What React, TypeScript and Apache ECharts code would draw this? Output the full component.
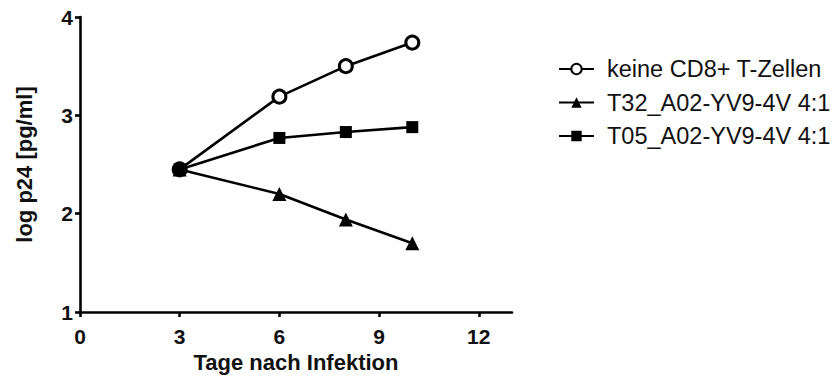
import React, { useEffect, useRef } from "react";
import * as echarts from "echarts";

// Days after infection
const days = [3, 6, 8, 10];

// log p24 [pg/ml] per condition
const keineCD8 = [2.45, 3.19, 3.5, 3.74];
const t32 = [2.45, 2.2, 1.94, 1.7];
const t05 = [2.45, 2.77, 2.83, 2.88];

const seriesNames = [
  "keine CD8+ T-Zellen",
  "T32_A02-YV9-4V 4:1",
  "T05_A02-YV9-4V 4:1",
];

const FONT = "'Liberation Sans', Arial, Helvetica, sans-serif";

const pairs = (ys: number[]) => days.map((d, i) => [d, ys[i]]);

export default function App() {
  const ref = useRef<HTMLDivElement>(null);

  useEffect(() => {
    document.body.style.margin = "0";
    if (!ref.current) return;
    const chart = echarts.init(ref.current, null, { renderer: "svg" });

    const lineStyle = { color: "#000", width: 2.6 };

    chart.setOption({
      animation: false,
      backgroundColor: "#fff",
      grid: { left: 80, top: 17, width: 432, height: 295, containLabel: false },
      legend: {
        orient: "vertical",
        left: 558,
        top: 57,
        padding: 0,
        itemWidth: 35,
        itemHeight: 13,
        itemGap: 9.5,
        data: seriesNames,
        textStyle: {
          fontFamily: FONT,
          fontSize: 23.5,
          color: "#111",
          padding: [0, 0, 0, 8],
        },
      },
      xAxis: {
        type: "value",
        min: 0,
        max: 13,
        interval: 3,
        name: "Tage nach Infektion",
        nameLocation: "middle",
        nameGap: 38,
        nameTextStyle: { fontFamily: FONT, fontSize: 22, fontWeight: "bold", color: "#111" },
        axisLine: { lineStyle: { color: "#000", width: 2.6 } },
        axisTick: { show: true, length: 5, lineStyle: { color: "#000", width: 2.6 } },
        axisLabel: {
          fontFamily: FONT,
          fontSize: 21,
          fontWeight: "bold",
          color: "#111",
          margin: 14,
          showMaxLabel: false,
        },
        splitLine: { show: false },
      },
      yAxis: {
        type: "value",
        min: 1,
        max: 4,
        interval: 1,
        name: "log p24 [pg/ml]",
        nameLocation: "middle",
        nameGap: 45,
        nameTextStyle: { fontFamily: FONT, fontSize: 22, fontWeight: "bold", color: "#111" },
        axisLine: { show: true, lineStyle: { color: "#000", width: 2.6 } },
        axisTick: { show: true, length: 5, lineStyle: { color: "#000", width: 2.6 } },
        axisLabel: {
          fontFamily: FONT,
          fontSize: 21,
          fontWeight: "bold",
          color: "#111",
          margin: 7,
        },
        splitLine: { show: false },
      },
      series: [
        {
          name: seriesNames[0],
          type: "line",
          data: pairs(keineCD8),
          symbol: "circle",
          symbolSize: 13,
          lineStyle,
          itemStyle: { color: "#fff", borderColor: "#000", borderWidth: 3 },
        },
        {
          name: seriesNames[1],
          type: "line",
          data: pairs(t32),
          symbol: "triangle",
          symbolSize: 14,
          lineStyle,
          itemStyle: { color: "#000" },
        },
        {
          name: seriesNames[2],
          type: "line",
          data: pairs(t05),
          symbol: "rect",
          symbolSize: 12,
          lineStyle,
          itemStyle: { color: "#000" },
        },
      ],
    });

    return () => chart.dispose();
  }, []);

  return <div ref={ref} style={{ width: 840, height: 382 }} />;
}
